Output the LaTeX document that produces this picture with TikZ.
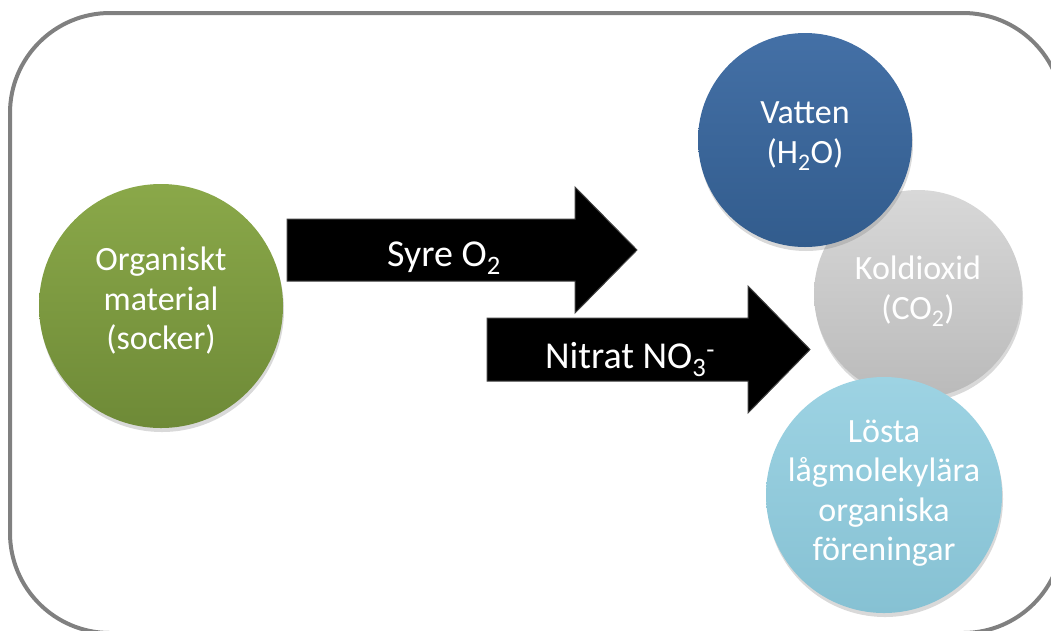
\documentclass[tikz,border=0pt]{standalone}
\usepackage{fontspec}
\setmainfont{Carlito}
\usetikzlibrary{shadows}
\definecolor{framegray}{HTML}{808080}
\definecolor{gtop}{HTML}{8AA849}
\definecolor{gmid}{HTML}{77933C}
\definecolor{gbot}{HTML}{6E8A37}
\definecolor{btop}{HTML}{4470A6}
\definecolor{bmid}{HTML}{3A6597}
\definecolor{bbot}{HTML}{325C8D}
\definecolor{ktop}{HTML}{D8D8D8}
\definecolor{kmid}{HTML}{C6C6C6}
\definecolor{kbot}{HTML}{BABABA}
\definecolor{ltop}{HTML}{9DD3E3}
\definecolor{lmid}{HTML}{8ECADC}
\definecolor{lbot}{HTML}{86C1D3}
\tikzset{
  ball/.style={circle, draw=none, inner sep=0pt,
    drop shadow={opacity=0.3, shadow xshift=1pt, shadow yshift=-4pt}},
  ctext/.style={text=white, align=center, inner sep=0pt,
    font=\fontsize{34}{39.5}\selectfont},
  atext/.style={text=white, inner sep=0pt, font=\fontsize{38}{44}\selectfont},
  blockarrow/.style={fill=black, draw=black!75, line width=1pt, line join=miter},
  frame/.style={draw=framegray, line width=4pt, rounded corners=100pt}
}
\begin{document}
\begin{tikzpicture}[x=1pt,y=-1pt]
\useasboundingbox (0,0) rectangle (1051,630);
\clip (0,0) rectangle (1051,630);
\draw[frame] (10,13) rectangle (1063,633);

\node[ball, minimum size=244pt, top color=gtop, middle color=gmid, bottom color=gbot] (org) at (161,306) {};

\fill[blockarrow] (287,219) -- (575,219) -- (575,187) -- (637,250) -- (575,313) -- (575,281) -- (287,281) -- cycle;
\fill[blockarrow] (487,318) -- (748,318) -- (748,286) -- (810,349.5) -- (748,413) -- (748,381) -- (487,381) -- cycle;

\node[ball, minimum size=208pt, top color=ktop, middle color=kmid, bottom color=kbot] (kol) at (918,294) {};
\node[ball, minimum size=214pt, top color=btop, middle color=bmid, bottom color=bbot] (vatten) at (805,140) {};
\node[ball, minimum size=236pt, top color=ltop, middle color=lmid, bottom color=lbot] (losta) at (884,495) {};

\node[ctext] (orgtext) at (161,301) {Organiskt\\material\\(socker)};
\node[ctext] (vattentext) at (805,136) {Vatten\\(H\textsubscript{2}O)};
\node[ctext] (koltext) at (918,291) {Koldioxid\\(CO\textsubscript{2})};
\node[ctext] (lostatext) at (884,493) {Lösta\\lågmolekylära\\organiska\\föreningar};

\node[atext, anchor=base] (syre) at (444,266) {Syre O\textsubscript{2}};
\node[atext, anchor=base] (nitrat) at (630,368) {Nitrat NO\textsubscript{3}\textsuperscript{-}};
\end{tikzpicture}
\end{document}
